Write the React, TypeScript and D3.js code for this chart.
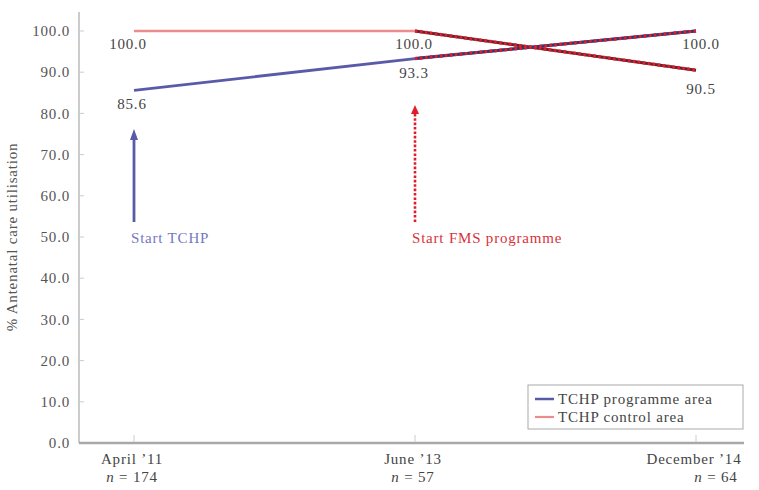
import React from "react";
import * as d3 from "d3";

const categories = ["April \u201911", "June \u201913", "December \u201914"];
const sampleSizes = ["174", "57", "64"];
const programme = [85.6, 93.3, 100.0];
const control = [100.0, 100.0, 90.5];
const yTicks = [0, 10, 20, 30, 40, 50, 60, 70, 80, 90, 100];

const W = 759, H = 490;
const FONT = "'Liberation Serif', 'Times New Roman', serif";

export default function App() {
  const x = d3.scalePoint<string>().domain(categories).range([134, 696]);
  const y = d3.scaleLinear().domain([0, 100]).range([443, 31]);
  const line = d3.line<number>().x((_, i) => x(categories[i])!).y((d) => y(d));

  const blueC = "#5a5ba8";
  const pinkC = "#ec8c8c";
  const redC = "#dd1f2a";
  const axisC = "#a8a8a8";
  const textC = "#444";

  const lastTwo = (arr: number[]) =>
    d3.line<number>().x((_, i) => x(categories[i + 1])!).y((d) => y(d))(arr.slice(1));

  const xA = x(categories[0])!;
  const xB = x(categories[1])!;

  const ctrlOff = [[-6, 18], [-1, 18], [5, 24]];
  const progOff = [[-2, 19], [-1, 19], [5, 18]];
  const fs = 15;
  const ls = 0.8;
  const st = { fontFamily: FONT, letterSpacing: `${ls}px` } as React.CSSProperties;

  return (
    <svg width={W} height={H} style={{ position: "absolute", left: 0, top: 0, background: "#fff", fontFamily: FONT }}>
      <line x1={79} x2={79} y1={12} y2={443} stroke={axisC} strokeWidth={1.2} />
      {yTicks.map((t) => (
        <g key={t}>
          <line x1={79} x2={84} y1={y(t)} y2={y(t)} stroke="#ccc" strokeWidth={1} />
          <text x={70} y={y(t)} dy="0.35em" textAnchor="end" fontSize={fs} fill="#555" style={st}>
            {t.toFixed(1)}
          </text>
        </g>
      ))}
      <text transform={`translate(17,${237}) rotate(-90)`} textAnchor="middle" fontSize={fs} fill="#555" style={st}>
        % Antenatal care utilisation
      </text>
      <line x1={79} x2={744} y1={443} y2={443} stroke={axisC} strokeWidth={2.5} />
      {categories.map((c) => (
        <line key={c} x1={x(c)!} x2={x(c)!} y1={435} y2={442} stroke="#ccc" strokeWidth={1} />
      ))}
      {categories.map((c, i) => (
        <g key={c} fontSize={fs} fill={textC} style={st}>
          <text x={x(c)! - 2} y={464} textAnchor="middle">{c}</text>
          <text x={x(c)! + (i === 2 ? 20 : -2)} y={482} textAnchor="middle">
            <tspan fontStyle="italic">n</tspan> = {sampleSizes[i]}
          </text>
        </g>
      ))}
      <path d={line(control) || ""} fill="none" stroke={pinkC} strokeWidth={2.5} />
      <path d={line(programme) || ""} fill="none" stroke={blueC} strokeWidth={2.8} />
      <path d={lastTwo(control) || ""} fill="none" stroke="#6a2030" strokeWidth={3} />
      <path d={lastTwo(programme) || ""} fill="none" stroke="#3a3470" strokeWidth={3} />
      <path d={lastTwo(control) || ""} fill="none" stroke={redC} strokeWidth={3.2} strokeDasharray="2.5,2.5" />
      <path d={lastTwo(programme) || ""} fill="none" stroke={redC} strokeWidth={3.2} strokeDasharray="2.5,2.5" />
      {categories.map((c, i) => (
        <g key={c} fontSize={fs} fill={textC} textAnchor="middle" style={st}>
          <text x={x(c)! + ctrlOff[i][0]} y={y(control[i]) + ctrlOff[i][1]}>
            {control[i].toFixed(1)}
          </text>
          <text x={x(c)! + progOff[i][0]} y={y(programme[i]) + progOff[i][1]}>
            {programme[i].toFixed(1)}
          </text>
        </g>
      ))}
      <line x1={xA} x2={xA} y1={222} y2={138} stroke={blueC} strokeWidth={2.8} />
      <path d={`M${xA - 4},${140} L${xA},${129} L${xA + 4},${140} Z`} fill={blueC} />
      <text x={xA - 3} y={243} fontSize={fs} fill="#7478c0" style={st}>Start TCHP</text>
      <line x1={xB} x2={xB} y1={222} y2={114} stroke={redC} strokeWidth={2.6} strokeDasharray="2.6,1.8" />
      <path d={`M${xB - 4},${114} L${xB},${105} L${xB + 4},${114} Z`} fill={redC} />
      <text x={xB - 3} y={243} fontSize={fs} fill="#d8323c" style={st}>Start FMS programme</text>
      <rect x={528} y={385} width={215} height={44} fill="#fff" stroke="#aaa" strokeWidth={1} />
      <line x1={535} x2={554} y1={399} y2={399} stroke={blueC} strokeWidth={2.5} />
      <line x1={535} x2={554} y1={417} y2={417} stroke={pinkC} strokeWidth={2.2} />
      <text x={558} y={399} dy="0.35em" fontSize={fs} fill={textC} style={st}>TCHP programme area</text>
      <text x={558} y={417} dy="0.35em" fontSize={fs} fill={textC} style={st}>TCHP control area</text>
    </svg>
  );
}
